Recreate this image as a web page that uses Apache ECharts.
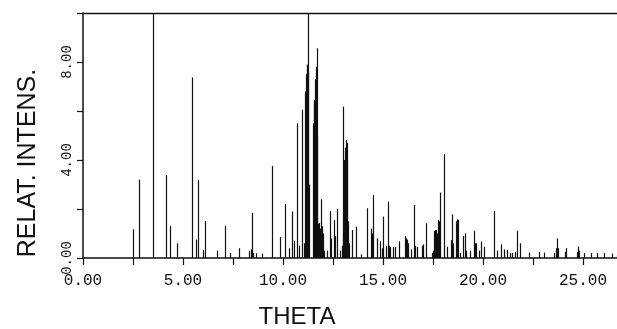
<!DOCTYPE html>
<html>
<head>
<meta charset="utf-8">
<script src="https://cdn.jsdelivr.net/npm/echarts@6/dist/echarts.min.js"></script>
<style>html,body{margin:0;padding:0;background:#fff;}#c{width:617px;height:329px;}</style>
</head>
<body>
<div id="c"></div>
<script>
// Peak positions (THETA) and relative intensities
const theta = [
  2.48, 2.80, 3.48, 4.13, 4.34, 4.71, 5.44, 5.65, 5.77, 5.99, 6.12, 6.68, 7.09, 7.35, 7.79,
  8.32, 8.38, 8.43, 8.50, 8.63, 8.93, 9.46, 9.83, 10.09, 10.30, 10.47, 10.55, 10.68, 10.78, 10.93, 11.05,
  11.12, 11.15, 11.18, 11.21, 11.24, 11.27, 11.30,
  11.50, 11.53, 11.56, 11.60, 11.63, 11.66, 11.69, 11.72, 11.75,
  11.80, 11.84, 11.90, 11.94, 11.98, 12.05, 12.20, 12.33, 12.38, 12.57, 12.62, 12.68, 12.85,
  12.94, 12.98, 13.02, 13.06, 13.10, 13.15, 13.18, 13.22, 13.25, 13.28,
  13.47, 13.65, 13.88, 14.22, 14.38, 14.43, 14.48, 14.72, 14.85, 14.95, 15.02, 15.15, 15.24, 15.30,
  15.35, 15.52, 15.60, 15.82, 16.08, 16.13, 16.18, 16.23, 16.41, 16.56, 16.62, 16.68, 16.93, 17.02,
  17.13, 17.45, 17.52, 17.57, 17.62, 17.67, 17.72, 17.77, 17.82, 17.87, 18.06, 18.18, 18.38, 18.47,
  18.52, 18.66, 18.70, 18.73, 18.85, 19.02, 19.10, 19.15, 19.35, 19.57, 19.62, 19.65, 19.80, 19.90,
  20.05, 20.55, 20.70, 20.88, 21.07, 21.22, 21.35, 21.45, 21.60, 21.70, 21.85, 22.32, 22.82, 23.07,
  23.55, 23.65, 23.70, 23.75, 24.10, 24.15, 24.68, 24.73, 24.80, 25.05, 25.38, 25.68, 26.07, 26.43, 26.68
];
const intensity = [
  1.17, 3.20, 10.0, 3.39, 1.31, 0.60, 7.37, 0.75, 3.18, 0.32, 1.51, 0.30, 1.31, 0.20, 0.40,
  0.30, 0.35, 1.84, 0.20, 0.20, 0.18, 3.76, 0.86, 2.20, 0.40, 1.90, 0.70, 5.50, 0.50, 6.05, 0.60,
  6.80, 7.50, 7.88, 7.90, 7.60, 10.0, 3.00,
  5.50, 6.30, 6.45, 7.30, 7.55, 7.80, 8.56, 5.00, 1.40,
  1.43, 1.20, 2.40, 1.30, 1.00, 0.30, 0.30, 1.92, 0.80, 1.55, 0.90, 2.00, 0.30,
  0.50, 1.00, 6.18, 4.00, 4.50, 4.82, 4.70, 4.00, 1.50, 0.60,
  1.14, 1.28, 0.15, 2.03, 1.20, 1.00, 2.57, 0.80, 0.68, 0.40, 1.69, 0.50, 2.30, 0.50,
  0.45, 0.45, 0.45, 0.68, 0.90, 0.80, 0.75, 0.60, 0.35, 2.16, 0.50, 0.45, 0.50, 0.55,
  1.42, 0.20, 0.30, 1.10, 1.14, 1.14, 1.00, 1.55, 1.50, 2.67, 4.24, 0.46, 0.73, 1.78,
  0.60, 1.50, 1.58, 1.55, 0.20, 0.90, 1.00, 0.30, 0.30, 1.11, 0.60, 0.60, 0.30, 0.67,
  0.46, 1.92, 0.30, 0.56, 0.35, 0.33, 0.20, 0.20, 0.25, 1.11, 0.60, 0.22, 0.25, 0.22,
  0.20, 0.40, 0.80, 0.40, 0.25, 0.40, 0.25, 0.47, 0.30, 0.20, 0.20, 0.20, 0.20, 0.18, 0.10
];
const xLabelValues = [0, 5, 10, 15, 20, 25];
const yLabelValues = [0, 4, 8];
const xTitle = 'THETA';
const yTitle = 'RELAT. INTENS.';

const data = theta.map((t, i) => [t, intensity[i]]);
const ink = '#111';

const chart = echarts.init(document.getElementById('c'), null, {renderer: 'canvas'});
chart.setOption({
  animation: false,
  backgroundColor: '#fff',
  grid: {left: 83, top: 13, right: 0, bottom: 71, containLabel: false},
  xAxis: [{
    type: 'value', min: 0, max: 26.7, interval: 2.5,
    axisLine: {show: true, onZero: false, lineStyle: {color: ink, width: 1.6}},
    axisTick: {show: true, inside: false, length: 7, lineStyle: {color: ink, width: 1.2}},
    splitLine: {show: false},
    axisLabel: {
      show: true, margin: 15, color: ink, fontFamily: 'Liberation Mono', fontSize: 16,
      showMaxLabel: false,
      formatter: v => xLabelValues.indexOf(v) >= 0 ? v.toFixed(2) : ''
    }
  }, {
    type: 'value', position: 'top', min: 0, max: 26.7,
    axisLine: {show: true, onZero: false, lineStyle: {color: ink, width: 1.4}},
    axisTick: {show: false}, axisLabel: {show: false}, splitLine: {show: false}
  }],
  yAxis: {
    type: 'value', min: 0, max: 10, interval: 2,
    axisLine: {show: true, onZero: false, lineStyle: {color: ink, width: 1.5}},
    axisTick: {show: true, inside: false, length: 6, lineStyle: {color: ink, width: 1.2}},
    splitLine: {show: false},
    axisLabel: {
      show: true, rotate: 90, margin: 9, color: ink, fontFamily: 'Liberation Mono', fontSize: 14,
      formatter: v => yLabelValues.indexOf(v) >= 0 ? v.toFixed(2) : ''
    }
  },
  graphic: [
    {type: 'text', x: 297, y: 317, style: {text: xTitle, fill: ink, font: '24px "Liberation Sans"', textAlign: 'center', textVerticalAlign: 'middle'}},
    {type: 'text', x: 28, y: 163, rotation: Math.PI / 2, style: {text: yTitle, fill: ink, font: '25px "Liberation Sans"', textAlign: 'center', textVerticalAlign: 'middle'}}
  ],
  series: [{
    type: 'custom',
    xAxisIndex: 0,
    clip: true,
    data: data,
    renderItem: function (params, api) {
      const x = api.value(0), y = api.value(1);
      const p0 = api.coord([x, 0]);
      const p1 = api.coord([x, y]);
      const px = Math.round(p0[0]) + 0.5;
      return {type: 'line', shape: {x1: px, y1: p0[1], x2: px, y2: p1[1]}, style: {stroke: ink, lineWidth: 1.2}};
    }
  }]
});
</script>
</body>
</html>
